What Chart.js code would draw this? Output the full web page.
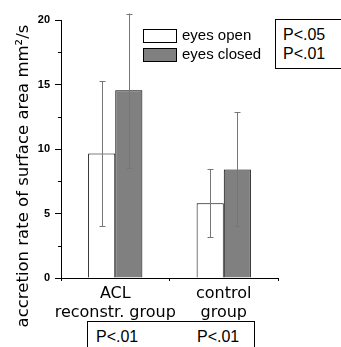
<!DOCTYPE html>
<html>
<head>
<meta charset="utf-8">
<script src="https://cdn.jsdelivr.net/npm/chart.js@4.4.1/dist/chart.umd.min.js"></script>
<style>
  body { margin: 0; background: #fff; overflow: hidden; }
  #wrap { position: relative; width: 341px; height: 347px; overflow: hidden; }
  .pbox { position: absolute; border: 1px solid #000; background: #fff;
          font-family: "Liberation Sans", Arial, sans-serif; font-size: 16px; line-height: 19px; color: #000; }
  #pRight { left: 275px; top: 19px; width: 90px; height: 50px; padding: 5px 0 0 7px; box-sizing: border-box; }
  #pBottom { left: 87px; top: 321px; width: 166px; height: 40px; }
  #pBottom span { position: absolute; top: 5px; }
</style>
</head>
<body>
<div id="wrap">
  <canvas id="firstChart" width="341" height="347"></canvas>
  <div class="pbox" id="pRight"><div>P&lt;.05</div><div>P&lt;.01</div></div>
  <div class="pbox" id="pBottom"><span style="left:8px">P&lt;.01</span><span style="left:109px">P&lt;.01</span></div>
</div>
<script>
const categories = [['ACL', 'reconstr. group'], ['control', 'group']];
const seriesNames = ['eyes open', 'eyes closed'];
const openMeans = [9.65, 5.8];
const closedMeans = [14.55, 8.42];
const openErrLow = [4.0, 3.16];
const openErrHigh = [15.25, 8.46];
const closedErrLow = [8.5, 4.0];
const closedErrHigh = [20.5, 12.84];
const yTicks = [0, 5, 10, 15, 20];
const yMinorTicks = [2.5, 7.5, 12.5, 17.5];
const yTitle = 'accretion rate of surface area mm\u00B2/s';

// error bars, minor ticks, legend, y title
const extras = {
    id: 'extras',
    afterDatasetsDraw(chart) {
        const ctx = chart.ctx;
        const y = chart.scales.y;
        ctx.save();
        ctx.strokeStyle = '#777';
        ctx.lineWidth = 1;
        chart.data.datasets.forEach((ds, di) => {
            const meta = chart.getDatasetMeta(di);
            meta.data.forEach((bar, i) => {
                const x = Math.round(bar.x) + 0.5;
                const yl = y.getPixelForValue(ds.errLow[i]);
                const yh = y.getPixelForValue(ds.errHigh[i]);
                ctx.beginPath();
                ctx.moveTo(x, yl); ctx.lineTo(x, yh);
                ctx.moveTo(x - 3, Math.round(yl) + 0.5); ctx.lineTo(x + 3, Math.round(yl) + 0.5);
                ctx.moveTo(x - 3, Math.round(yh) + 0.5); ctx.lineTo(x + 3, Math.round(yh) + 0.5);
                ctx.stroke();
            });
        });
        ctx.restore();
    },
    afterDraw(chart) {
        const ctx = chart.ctx;
        const y = chart.scales.y;
        const left = chart.chartArea.left;
        ctx.save();
        ctx.strokeStyle = '#000';
        ctx.lineWidth = 1;
        yMinorTicks.forEach(v => {
            const py = Math.round(y.getPixelForValue(v)) + 0.5;
            ctx.beginPath();
            ctx.moveTo(left - 3, py); ctx.lineTo(left, py);
            ctx.stroke();
        });
        // legend
        ctx.font = '15px "Liberation Sans", Arial, sans-serif';
        ctx.textBaseline = 'middle';
        ctx.fillStyle = '#000';
        chart.data.datasets.forEach((ds, di) => {
            const bx = 143.5, by = 29.5 + di * 19;
            ctx.fillStyle = ds.backgroundColor;
            ctx.fillRect(bx, by, 33, 13);
            ctx.strokeStyle = '#000';
            ctx.strokeRect(bx, by, 33, 13);
            ctx.fillStyle = '#000';
            ctx.fillText(ds.label, 182, by + 6.5);
        });
        // y title
        ctx.font = '16.5px "DejaVu Sans", sans-serif';
        ctx.textAlign = 'center';
        ctx.textBaseline = 'alphabetic';
        ctx.translate(28, 176);
        ctx.rotate(-Math.PI / 2);
        ctx.fillText(yTitle, 0, 0);
        ctx.restore();
    }
};

var ctx = document.getElementById('firstChart').getContext('2d');
var chart = new Chart(ctx, {
    type: 'bar',
    data: {
        labels: categories,
        datasets: [{
            label: seriesNames[0],
            backgroundColor: '#ffffff',
            borderColor: '#000000',
            borderWidth: 1,
            data: openMeans,
            errLow: openErrLow,
            errHigh: openErrHigh
        }, {
            label: seriesNames[1],
            backgroundColor: '#808080',
            borderColor: '#000000',
            borderWidth: 1,
            data: closedMeans,
            errLow: closedErrLow,
            errHigh: closedErrHigh
        }]
    },
    options: {
        responsive: false,
        animation: false,
        devicePixelRatio: 1,
        layout: { padding: { left: 0, top: 20, right: 63, bottom: 0 } },
        datasets: { bar: { barPercentage: 1, categoryPercentage: 0.5 } },
        plugins: { legend: { display: false }, tooltip: { enabled: false } },
        scales: {
            x: {
                offset: true,
                grid: { display: true, offset: true, drawOnChartArea: false, tickLength: 3, color: '#000' },
                border: { display: true, color: '#000', width: 1 },
                ticks: { color: '#000', padding: 3, maxRotation: 0, autoSkip: false,
                         font: { family: 'DejaVu Sans', size: 16, lineHeight: 1.2 } },
                afterFit(scale) { scale.height = 69; }
            },
            y: {
                min: 0, max: 20,
                afterBuildTicks(scale) { scale.ticks = yTicks.map(v => ({ value: v })); },
                grid: { display: true, drawOnChartArea: false, tickLength: 6, color: '#000' },
                border: { display: true, color: '#000', width: 1 },
                ticks: { color: '#000', padding: 5,
                         font: { family: 'Liberation Sans', size: 11, weight: 'bold' } },
                afterFit(scale) { scale.width = 61; }
            }
        }
    },
    plugins: [extras]
});
</script>
</body>
</html>
